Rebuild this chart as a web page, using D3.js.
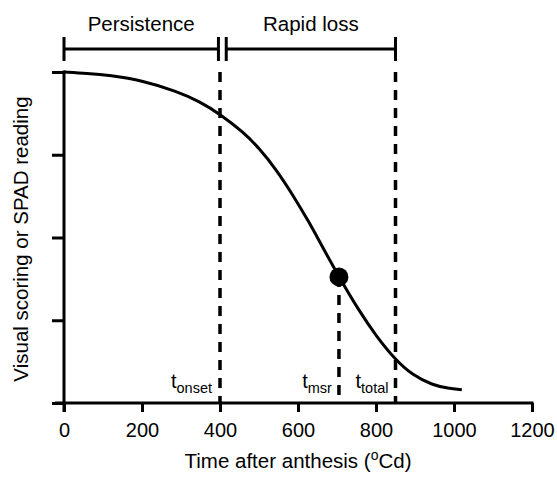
<!DOCTYPE html>
<html>
<head>
  <meta charset="utf-8">
  <title>Senescence curve</title>
  <style>
    body { margin: 0; background: #fff; }
    svg text { font-family: "Liberation Sans", Arial, sans-serif; fill: #000; }
    .axis path { display: none; }
    .axis line { stroke: #000; stroke-width: 3; }
    .axis text { font-size: 20px; }
  </style>
  <script src="https://d3js.org/d3.v7.min.js"></script>
</head>
<body>
  <div id="chart"></div>
  <script>
    // values
    var timeVals  = [0, 60, 117, 202, 288, 348, 400, 459, 502, 545, 586, 630, 656, 705, 758, 800, 850, 894, 945, 985, 1020];
    var greenVals = [100, 99.6, 99.0, 97.4, 94.2, 91.1, 87.3, 81.9, 76.8, 70.4, 63.0, 54.3, 48.6, 38.1, 27.6, 20.3, 13.0, 8.4, 5.4, 4.4, 4.0];

    var xTicks = [0, 200, 400, 600, 800, 1000, 1200];
    var yTicks = [0, 25, 50, 75, 100];

    var phaseNames  = ["Persistence", "Rapid loss"];
    var phaseStarts = [0, 416];
    var phaseEnds   = [396, 850];

    var markerNames = ["onset", "msr", "total"];
    var markerTimes = [400, 705, 850];
    var msrValue = 38.1;

    var margin = {top: 72, right: 25, bottom: 76, left: 64},
        width = 557 - margin.left - margin.right,
        height = 479 - margin.top - margin.bottom;

    var svg = d3.select("#chart").append("svg")
        .attr("width", 557)
        .attr("height", 479)
      .append("g")
        .attr("transform", "translate(" + margin.left + "," + margin.top + ")");

    var x = d3.scaleLinear().domain([0, 1200]).range([0, 468]);
    var y = d3.scaleLinear().domain([0, 100]).range([height, 0]);

    // axes
    svg.append("g")
      .attr("class", "axis")
      .attr("transform", "translate(0," + height + ")")
      .call(d3.axisBottom(x).tickValues(xTicks).tickFormat(d3.format("d"))
        .tickSize(9).tickSizeOuter(0).tickPadding(11));

    svg.append("g")
      .attr("class", "axis")
      .call(d3.axisLeft(y).tickValues(yTicks).tickSize(12).tickSizeOuter(0).tickFormat(""));

    svg.append("line")
      .attr("x1", x(0) - 9).attr("x2", x(1200) + 1.5)
      .attr("y1", y(0)).attr("y2", y(0))
      .attr("stroke", "#000").attr("stroke-width", 3);

    svg.append("line")
      .attr("x1", x(0)).attr("x2", x(0))
      .attr("y1", y(100) - 1.5).attr("y2", y(0) + 9)
      .attr("stroke", "#000").attr("stroke-width", 3);

    // dashed markers
    var dash = "10,8";
    [0, 2].forEach(function(i) {
      svg.append("line")
        .attr("x1", x(markerTimes[i])).attr("x2", x(markerTimes[i]))
        .attr("y1", y(100)).attr("y2", y(0))
        .attr("stroke", "#000").attr("stroke-width", 3.5)
        .attr("stroke-dasharray", dash);
    });
    svg.append("line")
      .attr("x1", x(markerTimes[1])).attr("x2", x(markerTimes[1]))
      .attr("y1", y(msrValue)).attr("y2", y(0))
      .attr("stroke", "#000").attr("stroke-width", 3.5)
      .attr("stroke-dasharray", dash);

    // curve
    var line = d3.line()
      .x(function(d, i) { return x(timeVals[i]); })
      .y(function(d) { return y(d); })
      .curve(d3.curveBasis);

    svg.append("path")
      .datum(greenVals)
      .attr("fill", "none")
      .attr("stroke", "#000")
      .attr("stroke-width", 3)
      .attr("d", line);

    svg.append("circle")
      .attr("cx", x(markerTimes[1]))
      .attr("cy", y(msrValue))
      .attr("r", 9.5)
      .attr("fill", "#000");

    // marker labels
    var labelGap = [8, 7, 7];
    markerNames.forEach(function(name, i) {
      var t = svg.append("text")
        .attr("x", x(markerTimes[i]) - labelGap[i])
        .attr("y", y(0) - 15)
        .attr("text-anchor", "end")
        .style("font-size", "20px");
      t.append("tspan").text("t");
      t.append("tspan").attr("dy", 5).style("font-size", "14.5px").text(name);
    });

    // phase bars on top
    var barY = 49 - margin.top;
    phaseNames.forEach(function(name, i) {
      var x0 = x(phaseStarts[i]), x1 = x(phaseEnds[i]);
      svg.append("line")
        .attr("x1", x0).attr("x2", x1)
        .attr("y1", barY).attr("y2", barY)
        .attr("stroke", "#000").attr("stroke-width", 3);
      [x0, x1].forEach(function(xx) {
        svg.append("line")
          .attr("x1", xx).attr("x2", xx)
          .attr("y1", barY - 12).attr("y2", barY + 12)
          .attr("stroke", "#000").attr("stroke-width", 3);
      });
      svg.append("text")
        .attr("x", (x0 + x1) / 2)
        .attr("y", 31 - margin.top)
        .attr("text-anchor", "middle")
        .style("font-size", "20.5px")
        .text(name);
    });

    // axis titles
    var xt = svg.append("text")
      .attr("x", x(600))
      .attr("y", 468 - margin.top)
      .attr("text-anchor", "middle")
      .style("font-size", "20.5px");
    xt.append("tspan").text("Time after anthesis (");
    xt.append("tspan").attr("dy", -8).style("font-size", "14px").text("o");
    xt.append("tspan").attr("dy", 8).text("Cd)");

    svg.append("text")
      .attr("transform", "translate(" + (28 - margin.left) + "," + (239 - margin.top) + ") rotate(-90)")
      .attr("text-anchor", "middle")
      .style("font-size", "20.5px")
      .text("Visual scoring or SPAD reading");
  </script>
</body>
</html>
